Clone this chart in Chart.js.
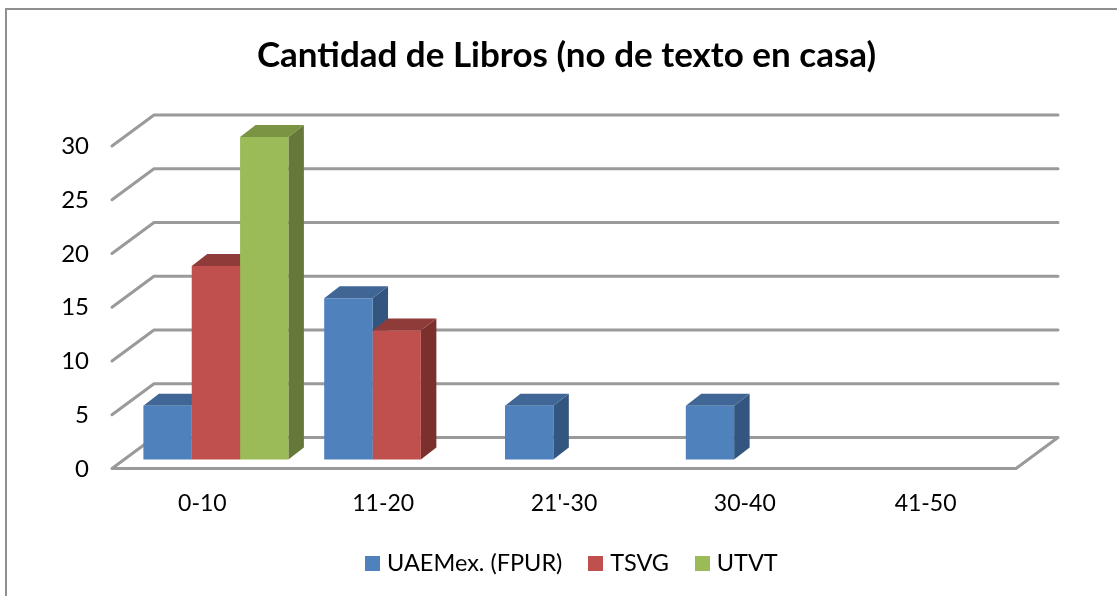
<!DOCTYPE html>
<html><head><meta charset="utf-8">
<script src="https://cdn.jsdelivr.net/npm/chart.js@4/dist/chart.umd.min.js"></script>
<style>
html,body{margin:0;padding:0;background:#fff;overflow:hidden;width:1117px;height:596px}
#c{position:absolute;left:0;top:0}
#frame{position:absolute;left:5px;top:8px;width:1112px;height:588px;border-top:2px solid #8f8f8f;border-left:2px solid #8f8f8f;box-sizing:border-box;pointer-events:none}
</style></head><body>
<canvas id="c" width="1133" height="585"></canvas><div id="frame"></div>
<script>
const categories = ['0-10','11-20',"21'-30",'30-40','41-50'];
const seriesNames = ['UAEMex. (FPUR)','TSVG','UTVT'];
const uaemex = [5,15,5,5,0];
const tsvg = [18,12,0,0,0];
const utvt = [30,0,0,0,0];
const yTicksMax = 30, yTickStep = 5;
const frontColors = ['#4f81bd','#c0504d','#9bbb59'];
const topColors = ['#3f6694','#8f3b39','#7a9444'];
const sideColors = ['#32567f','#7b302e','#66793a'];
const wallDepth = {dx:42, dy:-31};
const barOffset = {dx:13.5, dy:-9};
const barDepth = {dx:15.5, dy:-12};
const FONT = 'Lato, Carlito, sans-serif';

function swatch(color){
  const s=document.createElement('canvas'); s.width=15; s.height=15;
  const g=s.getContext('2d'); g.fillStyle=color; g.fillRect(0,0,15,15); return s;
}
const swatches = frontColors.map(swatch);

const poly=(ctx,pts,fill)=>{ctx.beginPath();pts.forEach((p,i)=>i?ctx.lineTo(p[0],p[1]):ctx.moveTo(p[0],p[1]));ctx.closePath();ctx.fillStyle=fill;ctx.fill();};

const box3d = {
  id:'box3d',
  afterLayout(chart){ chart.legend.left+=7.5; chart.legend.right+=7.5; },
  beforeDatasetsDraw(chart){
    const {ctx,scales:{x,y},chartArea:a}=chart;
    ctx.save();
    ctx.strokeStyle='#9a9a9a'; ctx.lineWidth=3; ctx.lineJoin='round'; ctx.lineCap='round';
    y.ticks.forEach(t=>{
      const py=y.getPixelForValue(t.value);
      ctx.beginPath();
      ctx.moveTo(a.left,py);
      ctx.lineTo(a.left+wallDepth.dx,py+wallDepth.dy);
      ctx.lineTo(a.right+wallDepth.dx,py+wallDepth.dy);
      if(t.value===0){ ctx.lineTo(a.right,py); ctx.closePath(); }
      ctx.stroke();
    });
    ctx.restore();
    ctx.save();
    ctx.translate(barOffset.dx,barOffset.dy);
    chart.data.datasets.forEach((ds,i)=>{
      chart.getDatasetMeta(i).data.forEach((b,j)=>{
        if(!ds.data[j]) return;
        const L=b.x-b.width/2,R=b.x+b.width/2,T=b.y,B=b.base,dx=barDepth.dx,dy=barDepth.dy;
        poly(ctx,[[R,B],[R+dx,B+dy],[R+dx,T+dy],[R,T]],sideColors[i]);
        poly(ctx,[[L,T],[L+dx,T+dy],[R+dx,T+dy],[R,T]],topColors[i]);
      });
    });
  },
  afterDatasetsDraw(chart){ chart.ctx.restore(); }
};

new Chart(document.getElementById('c'),{
  type:'bar',
  plugins:[box3d],
  data:{labels:categories,datasets:[
    {label:seriesNames[0],data:uaemex,backgroundColor:frontColors[0],clip:false},
    {label:seriesNames[1],data:tsvg,backgroundColor:frontColors[1],clip:false},
    {label:seriesNames[2],data:utvt,backgroundColor:frontColors[2],clip:false}
  ]},
  options:{
    responsive:false,animation:false,devicePixelRatio:1,
    layout:{padding:0},
    datasets:{bar:{categoryPercentage:0.802,barPercentage:1,borderWidth:0}},
    plugins:{
      tooltip:{enabled:false},
      title:{display:true,text:'Cantidad de Libros (no de texto en casa)',color:'#000',
        font:{family:FONT,size:35,weight:'bold',lineHeight:1.2},padding:{top:35,bottom:69}},
      legend:{position:'bottom',labels:{
        color:'#000',font:{family:FONT,size:23.5},padding:31,usePointStyle:true,pointStyleWidth:5,
        boxHeight:15,
        generateLabels(chart){
          return Chart.defaults.plugins.legend.labels.generateLabels(chart).map((l,i)=>{l.pointStyle=swatches[i];return l;});
        }
      }}
    },
    scales:{
      x:{grid:{display:false},border:{display:false},
        ticks:{color:'#000',font:{family:FONT,size:23},padding:13,maxRotation:0},
        afterFit(s){s.height=52;}},
      y:{min:0,max:yTicksMax,grid:{display:false},border:{display:false},
        ticks:{stepSize:yTickStep,color:'#000',font:{family:FONT,size:24},padding:15,labelOffset:0.5},
        afterFit(s){s.width=112;}},
      pad:{position:'right',display:true,grid:{display:false},border:{display:false},
        ticks:{display:false},afterFit(s){s.width=117;}}
    }
  }
});
</script>
</body></html>
